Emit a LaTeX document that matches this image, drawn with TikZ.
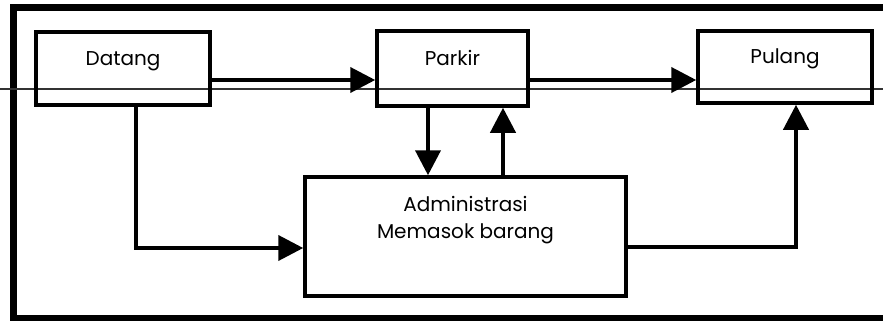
\documentclass[tikz,border=0pt]{standalone}
\usepackage{fontspec}
\setmainfont{Poppins}
\usetikzlibrary{arrows.meta,calc}
\tikzset{
  boxnode/.style={draw, line width=3.5pt, rectangle, inner sep=0pt},
  lbl/.style={font=\fontsize{20pt}{27pt}\selectfont, align=center, inner sep=0pt},
  conn/.style={line width=4pt, -{Triangle[length=25pt,width=25pt]}},
  frame/.style={line width=7pt},
}
\begin{document}
\begin{tikzpicture}[x=1pt,y=-1pt]
\useasboundingbox (0,0) rectangle (883,321);
% outer frame (open on the right)
\draw[frame] (883,8) -- (13,8) -- (13,318) -- (883,318);
% thin scan line
\draw[line width=1.2pt, black!80] (0,89) -- (883,89);
% boxes
\node[boxnode, minimum width=174pt, minimum height=73pt] (d) at (123,68.5) {};
\node[boxnode, minimum width=151pt, minimum height=75pt] (p) at (452.5,68.5) {};
\node[boxnode, minimum width=174pt, minimum height=72pt] (u) at (785,67) {};
\node[boxnode, minimum width=321pt, minimum height=119pt] (a) at (465.5,236.5) {};
% labels
\node[lbl] (dt) at ($(d.north)+(0,31)$) {Datang};
\node[lbl] (pt) at ($(p.north)+(0,29)$) {Parkir};
\node[lbl] (ut) at ($(u.north)+(0,30)$) {Pulang};
\node[lbl] (at) at ($(a.north)+(0,45)$) {Administrasi\\Memasok barang};
% connectors
\draw[conn] (d.east |- 0,80) -- (p.west |- 0,80);
\draw[conn] (p.east |- 0,80) -- (u.west |- 0,80);
\draw[conn] (d.south -| 136,0) |- (a.west |- 0,248);
\draw[conn] (p.south -| 428,0) -- (a.north -| 428,0);
\draw[conn] (a.north -| 503,0) -- (p.south -| 503,0);
\draw[conn] (a.east |- 0,247) -| (u.south -| 796,0);
\end{tikzpicture}
\end{document}
